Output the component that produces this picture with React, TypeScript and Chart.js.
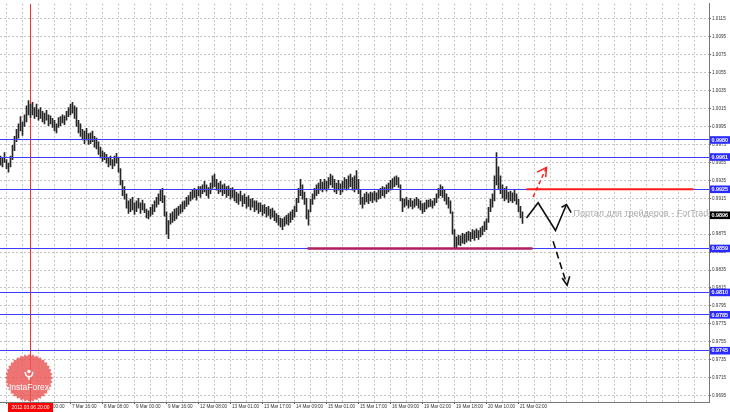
import React, { useEffect, useRef } from 'react';
import { Chart, registerables } from 'chart.js';
Chart.register(...registerables);

// Hourly bars (low / high)
const LOWS = [
  0.9952,0.9950,0.9955,0.9948,0.9944,0.9950,0.9958,0.9968,0.9978,0.9982,
  0.9990,0.9985,0.9995,1.0000,1.0008,1.0005,1.0008,1.0004,1.0006,1.0002,
  1.0004,1.0000,0.9998,1.0002,0.9996,0.9998,0.9994,0.9990,0.9988,0.9994,
  0.9996,0.9999,0.9997,1.0002,1.0006,1.0008,1.0010,1.0004,0.9995,0.9988,
  0.9984,0.9980,0.9976,0.9980,0.9975,0.9976,0.9978,0.9972,0.9970,0.9964,
  0.9960,0.9956,0.9958,0.9954,0.9950,0.9952,0.9948,0.9951,0.9954,0.9944,
  0.9930,0.9918,0.9914,0.9904,0.9898,0.9900,0.9902,0.9897,0.9900,0.9904,
  0.9898,0.9902,0.9899,0.9893,0.9892,0.9895,0.9897,0.9900,0.9905,0.9908,
  0.9912,0.9910,0.9895,0.9875,0.9870,0.9886,0.9888,0.9890,0.9892,0.9896,
  0.9898,0.9900,0.9903,0.9906,0.9908,0.9912,0.9914,0.9916,0.9913,0.9918,
  0.9916,0.9920,0.9922,0.9918,0.9915,0.9920,0.9926,0.9928,0.9924,0.9920,
  0.9922,0.9918,0.9920,0.9916,0.9918,0.9914,0.9916,0.9912,0.9910,0.9908,
  0.9912,0.9906,0.9909,0.9904,0.9906,0.9902,0.9905,0.9900,0.9902,0.9898,
  0.9900,0.9896,0.9898,0.9894,0.9896,0.9892,0.9894,0.9890,0.9888,0.9885,
  0.9883,0.9880,0.9884,0.9886,0.9885,0.9888,0.9891,0.9894,0.9900,0.9910,
  0.9918,0.9914,0.9908,0.9892,0.9885,0.9900,0.9908,0.9914,0.9918,0.9920,
  0.9924,0.9922,0.9925,0.9923,0.9926,0.9930,0.9927,0.9922,0.9920,0.9924,
  0.9919,0.9922,0.9926,0.9924,0.9926,0.9928,0.9924,0.9922,0.9925,0.9920,
  0.9908,0.9904,0.9908,0.9911,0.9909,0.9912,0.9910,0.9913,0.9911,0.9914,
  0.9915,0.9918,0.9916,0.9920,0.9922,0.9924,0.9926,0.9928,0.9930,0.9927,
  0.9912,0.9900,0.9905,0.9907,0.9904,0.9906,0.9903,0.9905,0.9907,0.9904,
  0.9902,0.9898,0.9900,0.9903,0.9905,0.9906,0.9904,0.9907,0.9910,0.9915,
  0.9918,0.9916,0.9912,0.9908,0.9904,0.9898,0.9875,0.9859,0.9860,0.9863,
  0.9862,0.9865,0.9864,0.9866,0.9868,0.9867,0.9870,0.9868,0.9871,0.9869,
  0.9872,0.9874,0.9878,0.9880,0.9888,0.9900,0.9905,0.9912,0.9930,0.9925,
  0.9920,0.9915,0.9912,0.9914,0.9910,0.9912,0.9910,0.9912,0.9908,0.9900,
  0.9893,0.9887
];
const HIGHS = [
  0.9962,0.9960,0.9966,0.9958,0.9954,0.9962,0.9974,0.9984,0.9992,0.9998,
  1.0006,1.0000,1.0008,1.0018,1.0024,1.0020,1.0022,1.0016,1.0020,1.0014,
  1.0016,1.0012,1.0010,1.0013,1.0008,1.0007,1.0004,1.0002,0.9998,1.0005,
  1.0006,1.0008,1.0007,1.0012,1.0016,1.0020,1.0022,1.0018,1.0016,1.0002,
  0.9998,0.9992,0.9990,0.9993,0.9987,0.9988,0.9990,0.9984,0.9982,0.9978,
  0.9972,0.9968,0.9966,0.9964,0.9960,0.9962,0.9958,0.9962,0.9965,0.9960,
  0.9948,0.9935,0.9928,0.9920,0.9912,0.9914,0.9916,0.9910,0.9912,0.9915,
  0.9910,0.9913,0.9909,0.9903,0.9901,0.9905,0.9908,0.9912,0.9916,0.9920,
  0.9924,0.9926,0.9918,0.9900,0.9890,0.9898,0.9900,0.9903,0.9904,0.9906,
  0.9908,0.9911,0.9912,0.9916,0.9918,0.9922,0.9925,0.9926,0.9924,0.9928,
  0.9928,0.9930,0.9934,0.9930,0.9927,0.9932,0.9940,0.9942,0.9936,0.9932,
  0.9934,0.9930,0.9931,0.9928,0.9929,0.9926,0.9927,0.9924,0.9922,0.9920,
  0.9923,0.9918,0.9920,0.9916,0.9918,0.9914,0.9915,0.9912,0.9912,0.9910,
  0.9910,0.9907,0.9908,0.9905,0.9906,0.9903,0.9904,0.9901,0.9898,0.9896,
  0.9893,0.9892,0.9894,0.9896,0.9898,0.9900,0.9902,0.9906,0.9915,0.9926,
  0.9936,0.9930,0.9922,0.9915,0.9902,0.9914,0.9920,0.9926,0.9930,0.9932,
  0.9936,0.9933,0.9936,0.9934,0.9938,0.9942,0.9940,0.9936,0.9932,0.9935,
  0.9931,0.9934,0.9938,0.9936,0.9940,0.9942,0.9938,0.9940,0.9946,0.9936,
  0.9925,0.9916,0.9920,0.9922,0.9920,0.9922,0.9921,0.9923,0.9921,0.9924,
  0.9926,0.9928,0.9927,0.9930,0.9932,0.9935,0.9937,0.9939,0.9940,0.9938,
  0.9930,0.9915,0.9914,0.9916,0.9913,0.9915,0.9912,0.9914,0.9916,0.9914,
  0.9912,0.9909,0.9910,0.9913,0.9913,0.9914,0.9912,0.9915,0.9920,0.9926,
  0.9930,0.9928,0.9924,0.9920,0.9916,0.9912,0.9900,0.9880,0.9872,0.9874,
  0.9873,0.9876,0.9875,0.9877,0.9878,0.9877,0.9880,0.9879,0.9881,0.9879,
  0.9882,0.9884,0.9889,0.9892,0.9905,0.9914,0.9920,0.9940,0.9966,0.9950,
  0.9940,0.9930,0.9926,0.9928,0.9922,0.9923,0.9921,0.9924,0.9920,0.9914,
  0.9906,0.9900
];

const Y_TICKS = [1.0115,1.0095,1.0075,1.0055,1.0035,1.0015,0.9995,0.9975,0.9955,0.9935,0.9915,
  0.9895,0.9875,0.9855,0.9835,0.9815,0.9795,0.9775,0.9755,0.9735,0.9715,0.9695];
const Y_MIN = 0.96878;
const Y_MAX = 1.01319;

const X_LABELS = ['6 Mar 08:00','7 Mar 00:00','7 Mar 16:00','8 Mar 08:00','9 Mar 00:00','9 Mar 16:00',
  '12 Mar 08:00','13 Mar 01:00','13 Mar 17:00','14 Mar 09:00','15 Mar 01:00','15 Mar 17:00',
  '16 Mar 09:00','19 Mar 02:00','19 Mar 18:00','20 Mar 10:00','21 Mar 02:00'];
const X_LABEL_BARS = [3,19,35,51,67,83,99,115,131,147,163,179,195,211,227,243,259];
const X_MIN = -0.25;
const X_MAX = 354.25;

const LEVELS = [0.9980, 0.9961, 0.9925, 0.9859, 0.9810, 0.9785, 0.9745];
const CURRENT_PRICE = 0.9896;
const MARKER_BAR = 15;
const MARKER_LABEL = '2012.03.06 20:00';

// Drawn annotations (bar index, price)
const RESIST_X = [263, 346.5];
const RESIST_Y = 0.9925;
const SUPPORT_X = [153.5, 266];
const SUPPORT_Y = 0.9859;
const ZIGZAG_X = [263, 268.8, 277.5, 283];
const ZIGZAG_Y = [0.9893, 0.9910, 0.9879, 0.9908];
const ZIGZAG_HEAD_X = [280.5, 283, 285.3];
const ZIGZAG_HEAD_Y = [0.9905, 0.9908, 0.9899];
const DOWN_X = [276.3, 283.3];
const DOWN_Y = [0.9867, 0.9818];
const DOWN_HEAD_X = [280.8, 283.3, 284.6];
const DOWN_HEAD_Y = [0.9826, 0.9818, 0.9828];
const UP_X = [266.3, 273];
const UP_Y = [0.99165, 0.99493];
const UP_HEAD_X = [268.3, 273, 272.6];
const UP_HEAD_Y = [0.99441, 0.99493, 0.99386];
const WATERMARK = 'Портал для трейдеров - ForTrader.ru';
const WATERMARK_AT = { x: 286.5, y: 0.98977 };

const FONT = '"Liberation Sans", Arial, sans-serif';

const pts = (xs: number[], ys: number[] | number) =>
  xs.map((x, i) => ({ x, y: Array.isArray(ys) ? ys[i] : ys }));

function drawLogo(ctx: CanvasRenderingContext2D, cx: number, cy: number) {
  const teeth = 36, ro = 24, ri = 21.8;
  ctx.save();
  ctx.beginPath();
  for (let k = 0; k < teeth * 2; k++) {
    const a = (k * Math.PI) / teeth;
    const r = k % 2 === 0 ? ro : ri;
    ctx.lineTo(cx + r * Math.cos(a), cy + r * Math.sin(a));
  }
  ctx.closePath();
  ctx.fillStyle = 'rgba(234,86,86,0.82)';
  ctx.fill();
  ctx.fillStyle = '#fff';
  ctx.strokeStyle = '#fff';
  ctx.beginPath();
  ctx.arc(cx, cy - 6.5, 1.8, 0, Math.PI * 2);
  ctx.fill();
  ctx.lineWidth = 1.5;
  ctx.beginPath();
  ctx.moveTo(cx - 3.8, cy - 6);
  ctx.quadraticCurveTo(cx - 3.6, cy - 1.5, cx, cy - 1.2);
  ctx.quadraticCurveTo(cx + 3.6, cy - 1.5, cx + 3.8, cy - 6);
  ctx.stroke();
  ctx.beginPath();
  ctx.moveTo(cx, cy - 1.5);
  ctx.lineTo(cx, cy + 2);
  ctx.stroke();
  ctx.font = `8.5px ${FONT}`;
  ctx.textAlign = 'center';
  ctx.textBaseline = 'middle';
  ctx.fillText('InstaForex', cx, cy + 10);
  ctx.restore();
}

function drawLevels(chart: any) {
  const { ctx, chartArea } = chart;
  const y = chart.scales.y;
  ctx.save();
  ctx.fillStyle = '#3c3cff';
  LEVELS.forEach((lv) => {
    const py = Math.floor(y.getPixelForValue(lv));
    ctx.fillRect(chartArea.left, py, chartArea.right - chartArea.left, 1);
  });
  ctx.restore();
}

const overlayPlugin = {
  id: 'overlay',
  afterDatasetsDraw(chart: any) {
    const { ctx } = chart;
    const x = chart.scales.x, y = chart.scales.y;
    ctx.save();
    ctx.font = `9px ${FONT}`;
    ctx.fillStyle = 'rgba(155,155,155,0.85)';
    ctx.textAlign = 'left';
    ctx.textBaseline = 'middle';
    ctx.fillText(WATERMARK, x.getPixelForValue(WATERMARK_AT.x), y.getPixelForValue(WATERMARK_AT.y));
    ctx.restore();
  },
  afterDraw(chart: any) {
    const { ctx, chartArea } = chart;
    const x = chart.scales.x, y = chart.scales.y;
    drawLevels(chart);
    ctx.save();
    ctx.lineWidth = 2.5;
    ctx.strokeStyle = '#b01e64';
    const sy = y.getPixelForValue(SUPPORT_Y);
    ctx.beginPath();
    ctx.moveTo(x.getPixelForValue(SUPPORT_X[0]), sy);
    ctx.lineTo(x.getPixelForValue(SUPPORT_X[1]), sy);
    ctx.stroke();
    ctx.lineWidth = 2;
    ctx.strokeStyle = '#ff1a1a';
    const ry = y.getPixelForValue(RESIST_Y);
    ctx.beginPath();
    ctx.moveTo(x.getPixelForValue(RESIST_X[0]), ry);
    ctx.lineTo(x.getPixelForValue(RESIST_X[1]), ry);
    ctx.stroke();
    ctx.restore();

    ctx.save();
    const boxX = chartArea.right + 1;
    const boxW = 730 - boxX;
    ctx.textAlign = 'left';
    ctx.textBaseline = 'middle';
    ctx.font = `bold 5.4px ${FONT}`;
    LEVELS.forEach((lv) => {
      const py = y.getPixelForValue(lv);
      ctx.fillStyle = '#2b2bff';
      ctx.fillRect(boxX, py - 3.8, boxW, 7.6);
      ctx.fillStyle = '#fff';
      ctx.fillText(lv.toFixed(4), boxX + 1.5, py + 0.3);
    });
    const cp = y.getPixelForValue(CURRENT_PRICE);
    ctx.fillStyle = '#000';
    ctx.fillRect(boxX, cp - 3.8, boxW, 7.6);
    ctx.fillStyle = '#fff';
    ctx.fillText(CURRENT_PRICE.toFixed(4), boxX + 1.5, cp + 0.3);

    const mx = x.getPixelForValue(MARKER_BAR);
    ctx.fillStyle = '#ff0000';
    ctx.fillRect(mx - 22.5, chartArea.bottom + 1, 45, 10);
    ctx.fillStyle = '#fff';
    ctx.textAlign = 'center';
    ctx.font = `4.9px ${FONT}`;
    ctx.fillText(MARKER_LABEL, mx, chartArea.bottom + 5.5);
    ctx.restore();

    drawLogo(ctx, 29, 378);
  },
};

export default function App() {
  const ref = useRef<HTMLCanvasElement>(null);
  useEffect(() => {
    document.body.style.margin = '0';
    const canvas = ref.current;
    if (!canvas) return;
    const candleData = LOWS.map((lo, i) => ({ x: i, y: [lo, HIGHS[i]] }));
    const lineDs = (data: any[], color: string, width: number, dash: number[] = []) => ({
      type: 'line' as const,
      data,
      borderColor: color,
      borderWidth: width,
      borderDash: dash,
      pointRadius: 0,
      fill: false,
      tension: 0,
    });
    const chart = new Chart(canvas, {
      type: 'bar',
      data: {
        datasets: [
          lineDs(pts(ZIGZAG_X, ZIGZAG_Y), '#111', 1.6),
          lineDs(pts(ZIGZAG_HEAD_X, ZIGZAG_HEAD_Y), '#111', 1.6),
          lineDs(pts(DOWN_X, DOWN_Y), '#111', 1.6, [7, 4]),
          lineDs(pts(DOWN_HEAD_X, DOWN_HEAD_Y), '#111', 1.6),
          lineDs(pts(UP_X, UP_Y), '#ff2020', 1.5, [4, 3]),
          lineDs(pts(UP_HEAD_X, UP_HEAD_Y), '#ff2020', 1.5),
          {
            type: 'bar' as const,
            data: candleData as any,
            backgroundColor: '#262626',
            borderWidth: 0,
            barThickness: 1,
            grouped: false,
          },
          lineDs(pts([MARKER_BAR, MARKER_BAR], [Y_MIN, Y_MAX]), '#ff2a2a', 1),
        ] as any,
      },
      options: {
        animation: false,
        responsive: false,
        devicePixelRatio: 1,
        layout: { padding: 0 },
        plugins: { legend: { display: false }, tooltip: { enabled: false } },
        scales: {
          x: {
            type: 'linear',
            position: 'bottom',
            min: X_MIN,
            max: X_MAX,
            offset: false,
            afterBuildTicks: (scale: any) => {
              const t: any[] = [];
              for (let v = X_LABEL_BARS[0]; v <= X_MAX; v += 8) t.push({ value: v });
              scale.ticks = t;
            },
            afterFit: (scale: any) => { scale.height = 10; },
            grid: {
              offset: false,
              color: '#c4c4c4',
              lineWidth: 1,
              tickLength: 2,
              tickBorderDash: [],
              tickColor: (c: any) => (X_LABEL_BARS.includes(c.tick?.value) ? '#555' : 'rgba(0,0,0,0)'),
            },
            border: { display: true, color: '#777', dash: [2, 2] },
            ticks: {
              autoSkip: false,
              maxRotation: 0,
              minRotation: 0,
              align: 'start',
              labelOffset: 1.5,
              padding: 0,
              color: '#333',
              font: { family: FONT, size: 4.6 },
              callback: (v: any) => {
                const idx = X_LABEL_BARS.indexOf(Number(v));
                return idx >= 0 ? X_LABELS[idx] : '';
              },
            },
          },
          y: {
            type: 'linear',
            position: 'right',
            min: Y_MIN,
            max: Y_MAX,
            beginAtZero: false,
            afterBuildTicks: (scale: any) => {
              scale.ticks = Y_TICKS.map((v) => ({ value: v }));
            },
            afterFit: (scale: any) => { scale.width = 21; },
            grid: {
              color: '#c4c4c4',
              lineWidth: 1,
              tickLength: 2,
              tickColor: '#555',
              tickBorderDash: [],
            },
            border: { display: true, color: '#777', dash: [2, 2] },
            ticks: {
              autoSkip: false,
              padding: 1,
              crossAlign: 'near',
              color: '#333',
              font: { family: FONT, size: 4.6 },
              callback: (v: any) => Number(v).toFixed(4),
            },
          },
        },
      } as any,
      plugins: [overlayPlugin],
    });
    return () => chart.destroy();
  }, []);
  return (
    <div style={{ width: 730, height: 412, background: '#fff', overflow: 'hidden' }}>
      <canvas ref={ref} width={730} height={412} style={{ display: 'block', width: 730, height: 412 }} />
    </div>
  );
}
